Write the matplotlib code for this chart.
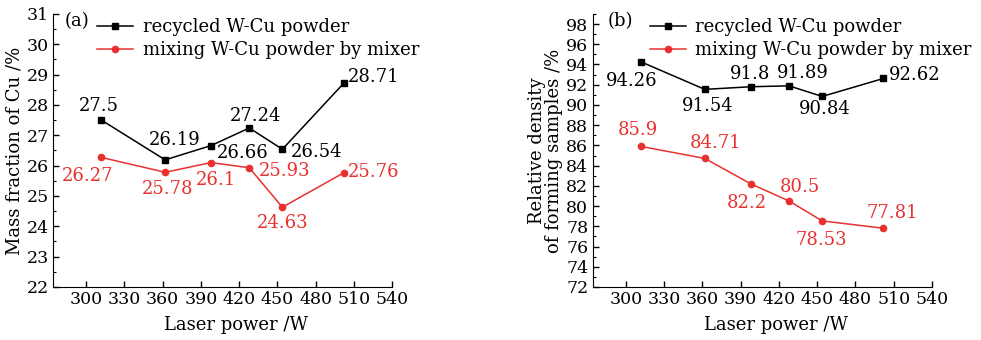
import numpy as np
import matplotlib
matplotlib.use('Agg')
import matplotlib.pyplot as plt

# data
power = [312, 362, 398, 428, 454, 502]
cu_recycled = [27.5, 26.19, 26.66, 27.24, 26.54, 28.71]
cu_mixer = [26.27, 25.78, 26.1, 25.93, 24.63, 25.76]
dens_recycled = [94.26, 91.54, 91.8, 91.89, 90.84, 92.62]
dens_mixer = [85.9, 84.71, 82.2, 80.5, 78.53, 77.81]

x_ticks = [300, 330, 360, 390, 420, 450, 480, 510, 540]
label_recycled = 'recycled W-Cu powder'
label_mixer = 'mixing W-Cu powder by mixer'

# label offsets in pixels
off_cu_rec = [(-3, 14), (10, 20), (32, -7), (6, 12), (34, -3), (30, 6)]
off_cu_mix = [(-14, -19), (2, -17), (5, -17), (35, -3), (0, -16), (30, 1)]
off_d_rec = [(-9, -19), (3, -17), (-1, 13), (14, 13), (3, -13), (31, 3)]
off_d_mix = [(-3, 16), (11, 15), (-4, -19), (11, 14), (-1, -19), (9, 15)]

RED = '#e8312f'
plt.rcParams['font.family'] = 'DejaVu Serif'
plt.rcParams['font.size'] = 12

fig = plt.figure(figsize=(9.81, 3.40), dpi=100)
ax1 = fig.add_axes([0.054, 0.156, 0.3456, 0.803])
ax2 = fig.add_axes([0.604, 0.156, 0.346, 0.803])


def draw(ax, yb, yr, ob, orr, leg_x):
    ax.plot(power, yb, color='black', marker='s', ms=4.5, lw=1.1, label=label_recycled)
    ax.plot(power, yr, color=RED, marker='o', ms=4.5, lw=1.1, label=label_mixer)
    for x, y, o in zip(power, yb, ob):
        ax.annotate(f'{y:g}', (x, y), xytext=o, textcoords='offset pixels',
                    ha='center', va='center', color='black', fontsize=13)
    for x, y, o in zip(power, yr, orr):
        ax.annotate(f'{y:g}', (x, y), xytext=o, textcoords='offset pixels',
                    ha='center', va='center', color=RED, fontsize=13)
    ax.set_xlim(274, 540)
    ax.set_xticks(x_ticks)
    for s in ['top', 'right']:
        ax.spines[s].set_visible(False)
    ax.tick_params(direction='in', length=4, width=1, labelsize=12.5, pad=3)
    ax.tick_params(which='minor', direction='in', length=2.5, width=0.8)
    ax.set_xlabel('Laser power /W', fontsize=13, labelpad=1)
    ax.xaxis.set_label_coords(0.54, -0.105)
    ax.legend(loc='upper left', bbox_to_anchor=(leg_x, 1.045), frameon=False,
              handlelength=2.0, handletextpad=0.5, labelspacing=0.3, fontsize=13)


draw(ax1, cu_recycled, cu_mixer, off_cu_rec, off_cu_mix, 0.083)
ax1.set_ylim(22, 31)
ax1.set_yticks(np.arange(22, 32, 1))
ax1.set_yticks(np.arange(22.5, 31, 1), minor=True)
ax1.set_ylabel('Mass fraction of Cu /%', fontsize=13, labelpad=2)
ax1.text(0.035, 0.975, '(a)', transform=ax1.transAxes, ha='left', va='center', fontsize=13)

draw(ax2, dens_recycled, dens_mixer, off_d_rec, off_d_mix, 0.122)
ax2.set_ylim(72, 99)
ax2.set_yticks(np.arange(72, 100, 2))
ax2.set_yticks(np.arange(73, 100, 2), minor=True)
ax2.set_ylabel('Relative density\nof forming samples /%', fontsize=13, labelpad=2,
               linespacing=0.95)
ax2.text(0.045, 0.975, '(b)', transform=ax2.transAxes, ha='left', va='center', fontsize=13)

fig.savefig('out.png', dpi=100)
